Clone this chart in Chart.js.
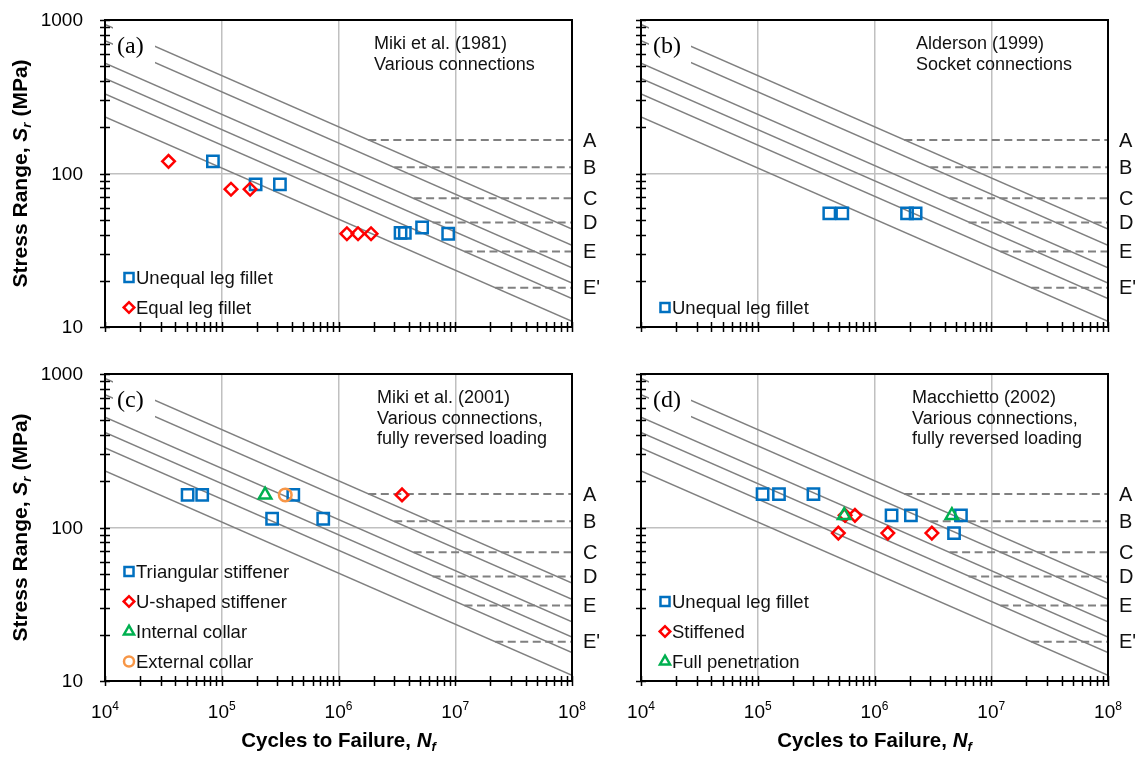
<!DOCTYPE html>
<html>
<head>
<meta charset="utf-8">
<script src="https://cdn.jsdelivr.net/npm/chart.js@4.4.1/dist/chart.umd.min.js"></script>
<style>
  body { margin: 0; background: #fff; width: 1147px; height: 757px; overflow: hidden; position: relative; }
  canvas { position: absolute; }
</style>
</head>
<body>
<canvas id="pa"></canvas>
<canvas id="pb"></canvas>
<canvas id="pc"></canvas>
<canvas id="pd"></canvas>
<script>
// ── Axis ticks ────────────────────────────────────────────────────
const xDecades   = [1e4, 1e5, 1e6, 1e7, 1e8];
const xExponents = ['4', '5', '6', '7', '8'];
const yDecades   = [10, 100, 1000];
const yTickLabels = ['10', '100', '1000'];

// ── Design curves (stress range at N = 1e4 and 1e8) and thresholds ─
const categories      = ['A', 'B', 'C', 'D', 'E', "E'"];
const curveStartN     = 1e4;
const curveEndN       = 1e8;
const curveStartS     = [936, 732, 524, 416, 330, 234];
const curveEndS       = [43.4, 34.0, 24.3, 19.3, 15.3, 10.9];
const thresholdS      = [165, 110, 69, 48, 31, 18];
const thresholdStartN = [1.8e6, 3.0e6, 4.4e6, 6.4e6, 1.2e7, 2.2e7];

// ── (a) Miki et al. (1981) ────────────────────────────────────────
const aUnequalN = [8.4e4, 1.95e5, 3.15e5, 3.4e6, 3.7e6, 5.2e6, 8.7e6];
const aUnequalS = [120, 85, 85, 41, 41, 44.5, 40.5];
const aEqualN   = [3.5e4, 1.2e5, 1.75e5, 1.18e6, 1.47e6, 1.9e6];
const aEqualS   = [120, 79, 79, 40.5, 40.5, 40.5];

// ── (b) Alderson (1999) ───────────────────────────────────────────
const bUnequalN = [4.1e5, 5.3e5, 1.9e6, 2.25e6];
const bUnequalS = [55, 55, 55, 55];

// ── (c) Miki et al. (2001) ────────────────────────────────────────
const cTriangularN = [5.1e4, 6.8e4, 2.7e5, 4.1e5, 7.4e5];
const cTriangularS = [163, 163, 114, 163, 114];
const cUShapedN    = [3.5e6];
const cUShapedS    = [163];
const cInternalN   = [2.35e5];
const cInternalS   = [163];
const cExternalN   = [3.5e5];
const cExternalS   = [163];

// ── (d) Macchietto (2002) ─────────────────────────────────────────
const dUnequalN   = [1.1e5, 1.52e5, 3.0e5, 1.4e6, 2.05e6, 5.5e6, 4.8e6];
const dUnequalS   = [165, 165, 165, 120, 120, 120, 92];
const dStiffenedN = [5.6e5, 6.8e5, 4.9e5, 1.3e6, 3.1e6];
const dStiffenedS = [120, 120, 92, 92, 92];
const dFullPenN   = [5.5e5, 4.6e6];
const dFullPenS   = [120, 120];

// ── Styles ────────────────────────────────────────────────────────
const SANS  = 'Arial, "Liberation Sans", Helvetica, sans-serif';
const SERIF = '"Times New Roman", "Liberation Serif", serif';
const markers = {
  square:   { pointStyle: 'rect',     color: '#0070C0', radius: 8,   legend: 6.4, order: 3 },
  diamond:  { pointStyle: 'rectRot',  color: '#FF0000', radius: 6.3, legend: 5.3, order: 2 },
  triangle: { pointStyle: 'triangle', color: '#00B050', radius: 7.2, legend: 5.8, order: 1 },
  circle:   { pointStyle: 'circle',   color: '#F79646', radius: 6.3, legend: 5,   order: 0 }
};

const panels = [
  { id: 'pa', tag: '(a)', canvas: { x: 0, y: 0, w: 625, h: 345 }, area: { l: 105, r: 572, t: 20, b: 327 },
    yLabels: true, xLabels: false, noteX: 374,
    note: ['Miki et al. (1981)', 'Various connections'],
    series: [
      { label: 'Unequal leg fillet', kind: 'square',  n: aUnequalN, s: aUnequalS },
      { label: 'Equal leg fillet',   kind: 'diamond', n: aEqualN,   s: aEqualS }
    ] },
  { id: 'pb', tag: '(b)', canvas: { x: 625, y: 0, w: 522, h: 345 }, area: { l: 641, r: 1108, t: 20, b: 327 },
    yLabels: false, xLabels: false, noteX: 916,
    note: ['Alderson (1999)', 'Socket connections'],
    series: [
      { label: 'Unequal leg fillet', kind: 'square', n: bUnequalN, s: bUnequalS }
    ] },
  { id: 'pc', tag: '(c)', canvas: { x: 0, y: 345, w: 625, h: 412 }, area: { l: 105, r: 572, t: 374, b: 681 },
    yLabels: true, xLabels: true, noteX: 377,
    note: ['Miki et al. (2001)', 'Various connections,', 'fully reversed loading'],
    series: [
      { label: 'Triangular stiffener', kind: 'square',   n: cTriangularN, s: cTriangularS },
      { label: 'U-shaped stiffener',   kind: 'diamond',  n: cUShapedN,    s: cUShapedS },
      { label: 'Internal collar',      kind: 'triangle', n: cInternalN,   s: cInternalS },
      { label: 'External collar',      kind: 'circle',   n: cExternalN,   s: cExternalS }
    ] },
  { id: 'pd', tag: '(d)', canvas: { x: 625, y: 345, w: 522, h: 412 }, area: { l: 641, r: 1108, t: 374, b: 681 },
    yLabels: false, xLabels: true, noteX: 912,
    note: ['Macchietto (2002)', 'Various connections,', 'fully reversed loading'],
    series: [
      { label: 'Unequal leg fillet', kind: 'square',   n: dUnequalN,   s: dUnequalS },
      { label: 'Stiffened',          kind: 'diamond',  n: dStiffenedN, s: dStiffenedS },
      { label: 'Full penetration',   kind: 'triangle', n: dFullPenN,   s: dFullPenS }
    ] }
];

// minor + major log ticks from the decade list
function logTicks(decades) {
  const out = [];
  for (let i = 0; i < decades.length - 1; i++)
    for (let m = 1; m < 10; m++) out.push(decades[i] * m);
  out.push(decades[decades.length - 1]);
  return out;
}
const xTickVals = logTicks(xDecades);
const yTickVals = logTicks(yDecades);
const isInnerDecade = (v, decades) =>
  decades.slice(1, -1).some(d => Math.abs(v - d) < d * 1e-9);

// mixed-font text on one baseline
function richText(ctx, parts, x, y, align) {
  let w = 0;
  parts.forEach(p => { ctx.font = p.font; p.w = ctx.measureText(p.text).width; w += p.w; });
  let cx = align === 'center' ? x - w / 2 : x;
  ctx.textAlign = 'left';
  ctx.textBaseline = 'alphabetic';
  parts.forEach(p => { ctx.font = p.font; ctx.fillText(p.text, cx, y + (p.dy || 0)); cx += p.w; });
}

function drawMarker(ctx, kind, radius, x, y) {
  const m = markers[kind];
  ctx.save();
  ctx.strokeStyle = m.color;
  ctx.fillStyle = 'rgba(0,0,0,0)';
  ctx.lineWidth = 2.5;
  Chart.helpers.drawPoint(ctx, { pointStyle: m.pointStyle, radius, borderWidth: 2.5, rotation: 0 }, x, y);
  ctx.restore();
}

function decor(p) {
  return {
    id: 'decor',
    afterDatasetsDraw(chart) {
      const ctx = chart.ctx, a = chart.chartArea;
      const ys = chart.scales.y;
      ctx.save();
      // panel tag on a white box that hides the curve ends
      ctx.fillStyle = '#fff';
      ctx.fillRect(a.left + 8, a.top + 1, 42, 43);
      ctx.fillStyle = '#000';
      ctx.font = '24px ' + SERIF;
      ctx.textAlign = 'left';
      ctx.textBaseline = 'alphabetic';
      ctx.fillText(p.tag, a.left + 12, a.top + 33);

      // source note
      ctx.fillStyle = '#111';
      ctx.font = '18px ' + SANS;
      const nx = p.noteX - p.canvas.x;
      p.note.forEach((line, i) => ctx.fillText(line, nx, a.top + 29 + i * 20.5));

      // category letters at the threshold levels
      ctx.font = '20px ' + SANS;
      ctx.textBaseline = 'middle';
      categories.forEach((c, i) => ctx.fillText(c, a.right + 11, ys.getPixelForValue(thresholdS[i]) + 1));

      // legend, bottom-left inside the plot
      const count = p.series.length;
      p.series.forEach((s, i) => {
        const y = a.bottom - 19.5 - (count - 1 - i) * 30;
        drawMarker(ctx, s.kind, markers[s.kind].legend, a.left + 24, y);
        ctx.fillStyle = '#111';
        ctx.font = '18.5px ' + SANS;
        ctx.textAlign = 'left';
        ctx.textBaseline = 'middle';
        ctx.fillText(s.label, a.left + 31, y + 1);
      });
      ctx.restore();
    },
    afterDraw(chart) {
      const ctx = chart.ctx, a = chart.chartArea;
      const xs = chart.scales.x, ys = chart.scales.y;
      ctx.save();
      // plot frame
      ctx.strokeStyle = '#000';
      ctx.lineWidth = 2;
      ctx.strokeRect(a.left, a.top, a.right - a.left, a.bottom - a.top);
      // crossing tick marks
      ctx.lineWidth = 1.5;
      ctx.beginPath();
      xs.ticks.forEach(t => {
        const x = Math.round(xs.getPixelForValue(t.value)) + 0.5;
        ctx.moveTo(x, a.bottom - 5); ctx.lineTo(x, a.bottom + 5);
      });
      ys.ticks.forEach(t => {
        const y = Math.round(ys.getPixelForValue(t.value)) + 0.5;
        ctx.moveTo(a.left - 5, y); ctx.lineTo(a.left + 5, y);
      });
      ctx.stroke();
      ctx.fillStyle = '#000';
      // x tick labels as powers of ten
      if (p.xLabels) {
        xDecades.forEach((v, i) => {
          richText(ctx, [
            { text: '10', font: '19px ' + SANS },
            { text: xExponents[i], font: '12px ' + SANS, dy: -8 }
          ], xs.getPixelForValue(v), a.bottom + 37, 'center');
        });
        richText(ctx, [
          { text: 'Cycles to Failure, ', font: 'bold 20.5px ' + SANS },
          { text: 'N', font: 'italic bold 20.5px ' + SANS },
          { text: 'f', font: 'italic bold 13px ' + SANS, dy: 4 }
        ], (a.left + a.right) / 2, a.bottom + 66, 'center');
      }
      // y tick labels at the decades
      if (p.yLabels) {
        ctx.font = '19px ' + SANS;
        ctx.textAlign = 'right';
        ctx.textBaseline = 'middle';
        yDecades.forEach((v, i) => ctx.fillText(yTickLabels[i], a.left - 22, ys.getPixelForValue(v) + 1));
        ctx.translate(20, (a.top + a.bottom) / 2);
        ctx.rotate(-Math.PI / 2);
        richText(ctx, [
          { text: 'Stress Range, ', font: 'bold 21px ' + SANS },
          { text: 'S', font: 'italic bold 21px ' + SANS },
          { text: 'r', font: 'italic bold 13.5px ' + SANS, dy: 4 },
          { text: ' (MPa)', font: 'bold 21px ' + SANS }
        ], 0, 7, 'center');
      }
      ctx.restore();
    }
  };
}

function buildDatasets(p) {
  const sets = [];
  categories.forEach((c, i) => {
    sets.push({
      label: 'Category ' + c,
      data: [{ x: curveStartN, y: curveStartS[i] }, { x: curveEndN, y: curveEndS[i] }],
      showLine: true, borderColor: '#808080', borderWidth: 1.5, pointRadius: 0, order: 11
    });
    sets.push({
      label: 'Threshold ' + c,
      data: [{ x: thresholdStartN[i], y: thresholdS[i] }, { x: curveEndN, y: thresholdS[i] }],
      showLine: true, borderColor: '#808080', borderWidth: 2, borderDash: [8, 4.5], pointRadius: 0, order: 10
    });
  });
  p.series.forEach(s => {
    const m = markers[s.kind];
    sets.push({
      label: s.label,
      data: s.n.map((n, j) => ({ x: n, y: s.s[j] })),
      showLine: false,
      pointStyle: m.pointStyle,
      pointRadius: m.radius,
      pointBorderWidth: 2.5,
      pointBorderColor: m.color,
      pointBackgroundColor: 'rgba(0,0,0,0)',
      borderColor: m.color,
      order: m.order
    });
  });
  return sets;
}

panels.forEach(p => {
  const cv = document.getElementById(p.id);
  cv.width = p.canvas.w;
  cv.height = p.canvas.h;
  cv.style.left = p.canvas.x + 'px';
  cv.style.top = p.canvas.y + 'px';
  cv.style.width = p.canvas.w + 'px';
  cv.style.height = p.canvas.h + 'px';

  const yWidth  = p.area.l - p.canvas.x;
  const xHeight = p.canvas.y + p.canvas.h - p.area.b;

  new Chart(cv.getContext('2d'), {
    type: 'scatter',
    data: { datasets: buildDatasets(p) },
    options: {
      responsive: false,
      animation: false,
      events: [],
      layout: {
        autoPadding: false,
        padding: { left: 0, top: p.area.t - p.canvas.y, right: p.canvas.x + p.canvas.w - p.area.r, bottom: 0 }
      },
      plugins: { legend: { display: false }, tooltip: { enabled: false } },
      scales: {
        x: {
          type: 'logarithmic', position: 'bottom', min: xDecades[0], max: xDecades[xDecades.length - 1],
          afterBuildTicks: s => { s.ticks = xTickVals.map(v => ({ value: v })); },
          afterFit: s => { s.height = xHeight; },
          ticks: { display: false },
          border: { display: false },
          grid: {
            drawTicks: false, lineWidth: 1.5,
            color: c => isInnerDecade(c.tick.value, xDecades) ? '#C0C0C0' : 'rgba(0,0,0,0)'
          }
        },
        y: {
          type: 'logarithmic', position: 'left', min: yDecades[0], max: yDecades[yDecades.length - 1],
          afterBuildTicks: s => { s.ticks = yTickVals.map(v => ({ value: v })); },
          afterFit: s => { s.width = yWidth; },
          ticks: { display: false },
          border: { display: false },
          grid: {
            drawTicks: false, lineWidth: 1.5,
            color: c => isInnerDecade(c.tick.value, yDecades) ? '#C0C0C0' : 'rgba(0,0,0,0)'
          }
        }
      }
    },
    plugins: [decor(p)]
  });
});
</script>
</body>
</html>
